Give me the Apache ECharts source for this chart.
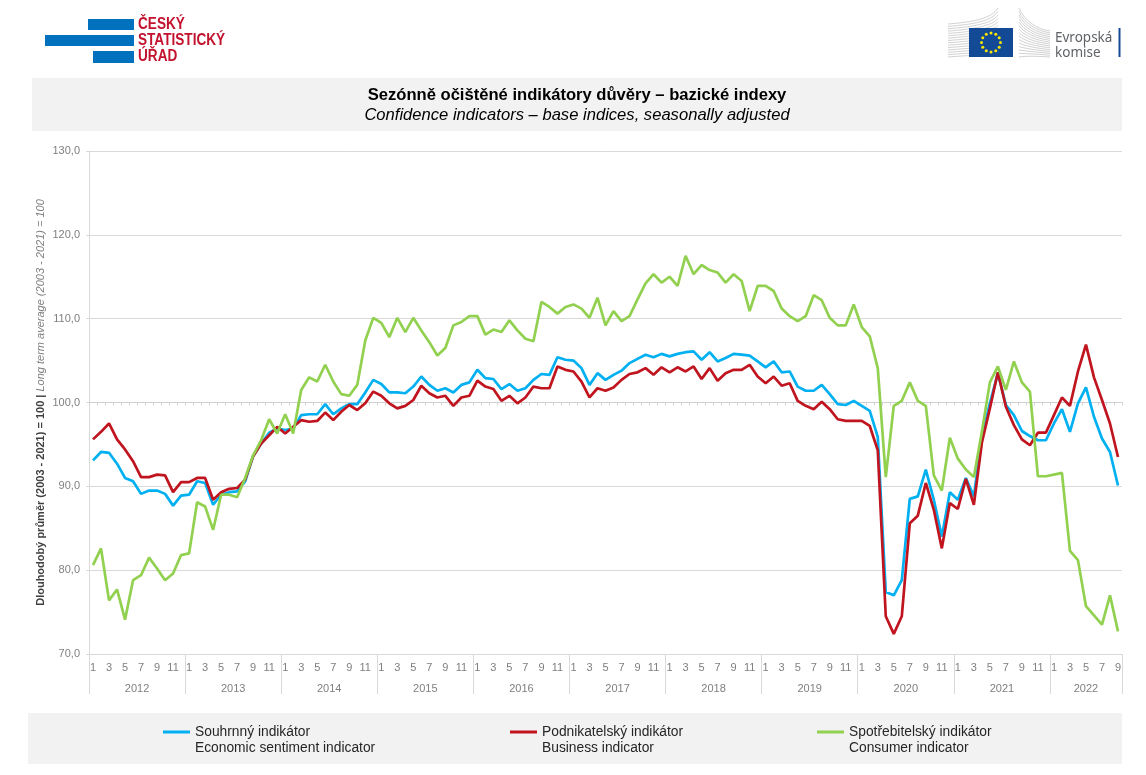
<!DOCTYPE html>
<html>
<head>
<meta charset="utf-8">
<title>Indikátory důvěry</title>
<script src="https://cdn.jsdelivr.net/npm/echarts@6/dist/echarts.min.js"></script>
<style>
    html, body { margin: 0; padding: 0; background: #fff; }
    #chart { width: 1146px; height: 775px; }
</style>
</head>
<body>
<div id="chart"></div>
<script>
//data, monthly from 1/2012 to 9/2022
var years = ['2012', '2013', '2014', '2015', '2016', '2017', '2018', '2019', '2020', '2021', '2022'];
var monthsInYear = [12, 12, 12, 12, 12, 12, 12, 12, 12, 12, 9];

var sentiment = [
    93.1, 94.1, 94.0, 92.7, 91.0, 90.6, 89.1, 89.5, 89.5, 89.1, 87.7, 88.9,
    89.0, 90.6, 90.4, 87.8, 89.0, 89.3, 89.4, 90.6, 93.6, 95.1, 96.4, 96.9,
    96.7, 96.9, 98.5, 98.6, 98.6, 99.8, 98.6, 99.3, 99.8, 99.8, 101.2, 102.7,
    102.2, 101.2, 101.2, 101.1, 101.9, 103.1, 102.1, 101.4, 101.7, 101.2, 102.1, 102.4,
    103.9, 102.9, 102.8, 101.6, 102.2, 101.4, 101.7, 102.7, 103.4, 103.3, 105.4, 105.1,
    105.0, 104.1, 102.1, 103.5, 102.7, 103.3, 103.8, 104.7, 105.2, 105.7, 105.4, 105.8,
    105.5, 105.8, 106.0, 106.1, 105.1, 106.0, 104.9, 105.3, 105.8, 105.7, 105.6, 104.9,
    104.2, 104.9, 103.6, 103.7, 101.9, 101.4, 101.4, 102.1, 101.0, 99.8, 99.7, 100.2,
    99.6, 99.0, 95.9, 77.4, 77.0, 78.8, 88.5, 88.8, 92.0, 88.4, 84.0, 89.3,
    88.4, 91.0, 88.8, 95.9, 99.9, 103.5, 99.7, 98.5, 96.6, 96.0, 95.5, 95.5,
    97.5, 99.2, 96.5, 99.9, 101.8, 98.3, 95.7, 94.1, 90.1
];
var business = [
    95.6, 96.5, 97.5, 95.6, 94.4, 93.0, 91.1, 91.1, 91.4, 91.3, 89.3, 90.5,
    90.5, 91.0, 91.0, 88.4, 89.3, 89.7, 89.8, 90.8, 93.6, 95.1, 96.1, 97.1,
    96.3, 97.1, 97.9, 97.7, 97.8, 98.8, 97.9, 98.9, 99.7, 99.1, 99.9, 101.3,
    100.8, 99.9, 99.3, 99.6, 100.3, 102.0, 101.1, 100.6, 100.8, 99.6, 100.6, 100.8,
    102.6, 101.9, 101.6, 100.2, 100.8, 99.9, 100.6, 101.9, 101.7, 101.7, 104.3, 103.9,
    103.7, 102.5, 100.6, 101.7, 101.4, 101.8, 102.7, 103.4, 103.6, 104.1, 103.3, 104.2,
    103.6, 104.2, 103.7, 104.3, 102.8, 104.1, 102.6, 103.5, 103.9, 103.9, 104.5, 103.1,
    102.3, 103.1, 102.0, 102.3, 100.2, 99.6, 99.2, 100.1, 99.2, 98.0, 97.8, 97.8,
    97.8, 97.2, 94.3, 74.5, 72.4, 74.5, 85.6, 86.5, 90.4, 87.2, 82.6, 88.0,
    87.3, 90.9, 87.8, 95.2, 99.3, 103.6, 99.5, 97.3, 95.6, 94.9, 96.4, 96.4,
    98.5, 100.6, 99.6, 103.7, 106.9, 103.0, 100.3, 97.5, 93.5
];
var consumer = [
    80.6, 82.6, 76.4, 77.7, 74.1, 78.8, 79.4, 81.5, 80.2, 78.8, 79.6, 81.8,
    82.0, 88.1, 87.6, 84.8, 89.0, 89.0, 88.7, 91.0, 93.7, 95.5, 98.0, 96.3,
    98.6, 96.3, 101.5, 103.0, 102.5, 104.5, 102.5, 101.0, 100.8, 102.1, 107.4, 110.1,
    109.5, 107.8, 110.1, 108.4, 110.1, 108.6, 107.2, 105.6, 106.5, 109.2, 109.6, 110.3,
    110.3, 108.1, 108.7, 108.4, 109.8, 108.6, 107.6, 107.3, 112.0, 111.4, 110.6, 111.4,
    111.7, 111.2, 110.1, 112.5, 109.2, 110.9, 109.7, 110.3, 112.3, 114.2, 115.3, 114.3,
    115.0, 113.9, 117.5, 115.3, 116.4, 115.8, 115.5, 114.3, 115.3, 114.5, 110.9, 113.9,
    113.9, 113.3, 111.2, 110.3, 109.7, 110.3, 112.8, 112.2, 110.1, 109.2, 109.2, 111.7,
    109.0, 107.9, 104.1, 91.1, 99.6, 100.2, 102.4, 100.2, 99.6, 91.3, 89.5, 95.8,
    93.3, 92.0, 91.1, 96.5, 102.4, 104.3, 101.5, 104.9, 102.4, 101.3, 91.2, 91.2,
    91.4, 91.6, 82.3, 81.2, 75.7, 74.6, 73.5, 77.0, 72.7
];

var seriesNames = ['Souhrnný indikátor', 'Podnikatelský indikátor', 'Spotřebitelský indikátor'];
var seriesNamesEn = ['Economic sentiment indicator', 'Business indicator', 'Consumer indicator'];
var seriesColors = ['#00b0f0', '#c0141f', '#92d050'];

var titleCz = 'Sezónně očištěné indikátory důvěry – bazické indexy';
var titleEn = 'Confidence indicators – base indices, seasonally adjusted';
var axisNameCz = 'Dlouhodobý průměr (2003 - 2021) = 100';
var axisNameEn = 'Long term average (2003 - 2021) = 100';

var fontName = '"Liberation Sans", Arial, sans-serif';
var gridColor = '#d9d9d9';
var labelColor = '#7f7f7f';
var gridHeight = 503;

//month labels and year spans, built from the year list
var monthLabels = [];
var yearTicks = [0];
var yearCenters = [];
years.forEach(function (year, y) {
    for (var m = 1; m <= monthsInYear[y]; m++) {
        monthLabels.push(String(m));
    }
    yearCenters.push(yearTicks[y] + monthsInYear[y] / 2);
    yearTicks.push(yearTicks[y] + monthsInYear[y]);
});

//logos and grey bands
var graphics = [
    {type: 'rect', shape: {x: 32, y: 78, width: 1090, height: 53}, style: {fill: '#f2f2f2'}},
    {type: 'rect', shape: {x: 28, y: 713, width: 1094, height: 51}, style: {fill: '#f2f2f2'}},

    {type: 'rect', shape: {x: 88, y: 19, width: 46, height: 11}, style: {fill: '#0071bc'}},
    {type: 'rect', shape: {x: 45, y: 35, width: 89, height: 11}, style: {fill: '#0071bc'}},
    {type: 'rect', shape: {x: 93, y: 51, width: 41, height: 12}, style: {fill: '#0071bc'}}
];

['ČESKÝ', 'STATISTICKÝ', 'ÚŘAD'].forEach(function (line, i) {
    graphics.push({
        type: 'text', x: 138, y: 25 + i * 16, scaleX: 0.85,
        style: {text: line, fill: '#c3122d', font: 'bold 16px ' + fontName, textVerticalAlign: 'middle'}
    });
});

for (var k = 0; k <= 14; k++) {
    var t = k / 14;
    graphics.push({
        type: 'bezierCurve',
        shape: {x1: 948, y1: 24 + t * 33, cpx1: 975, cpy1: 22 + t * 33, cpx2: 992, cpy2: 18 + t * 36, x2: 998, y2: 8 + t * 49},
        style: {stroke: '#d2d2d2', lineWidth: 1, fill: null}
    });
    graphics.push({
        type: 'bezierCurve',
        shape: {x1: 1019, y1: 8 + t * 49, cpx1: 1024, cpy1: 20 + t * 36, cpx2: 1036, cpy2: 29 + t * 27, x2: 1050, y2: 31 + t * 26},
        style: {stroke: '#d2d2d2', lineWidth: 1, fill: null}
    });
}

graphics.push({type: 'rect', shape: {x: 969, y: 28, width: 44, height: 29}, style: {fill: '#134a96'}});
for (var s = 0; s < 12; s++) {
    graphics.push({
        type: 'circle',
        shape: {cx: 991 + 9.5 * Math.sin(s * Math.PI / 6), cy: 42.5 - 9.5 * Math.cos(s * Math.PI / 6), r: 1.5},
        style: {fill: '#ffe600'}
    });
}
graphics.push({type: 'rect', shape: {x: 1118.5, y: 28, width: 2, height: 29}, style: {fill: '#134a96'}});
graphics.push({type: 'text', x: 1055, y: 38.5, style: {text: 'Evropská', fill: '#5f6368', font: '13.5px "Noto Sans", sans-serif', textVerticalAlign: 'middle'}});
graphics.push({type: 'text', x: 1055, y: 53, style: {text: 'komise', fill: '#5f6368', font: '13.5px "Noto Sans", sans-serif', textVerticalAlign: 'middle'}});

//one legend per series, the legend boxes stand apart in the band
var legendLefts = [163, 510, 817];
var legends = seriesNames.map(function (name, i) {
    return {
        data: [name],
        left: legendLefts[i],
        top: 708,
        padding: 0,
        orient: 'horizontal',
        icon: 'rect',
        itemWidth: 27,
        itemHeight: 3,
        itemGap: 0,
        selectedMode: false,
        formatter: function (n) {
            return '\u00a0\n' + n + '\n' + seriesNamesEn[seriesNames.indexOf(n)];
        },
        textStyle: {color: '#262626', fontFamily: fontName, fontSize: 13.8, lineHeight: 16}
    };
});

var chart = echarts.init(document.getElementById('chart'));
var options = {
    backgroundColor: '#fff',
    animation: false,
    textStyle: {fontFamily: fontName},
    graphic: {elements: graphics},
    title: {
        text: '{a|' + titleCz + '}\n{b|' + titleEn + '}',
        left: 577,
        top: 85,
        padding: 0,
        textAlign: 'center',
        textStyle: {
            fontWeight: 'normal',
            rich: {
                a: {fontFamily: fontName, fontSize: 16.6, fontWeight: 'bold', color: '#000', lineHeight: 20},
                b: {fontFamily: fontName, fontSize: 16.6, fontWeight: 'normal', fontStyle: 'italic', color: '#000', lineHeight: 20}
            }
        }
    },
    legend: legends,
    grid: {left: 89, right: 24, top: 151, height: gridHeight},
    xAxis: [
        {
            type: 'category',
            data: monthLabels,
            boundaryGap: true,
            axisLine: {lineStyle: {color: gridColor}},
            axisTick: {interval: 0, length: 21, lineStyle: {color: gridColor}},
            axisLabel: {interval: 1, margin: 8, color: labelColor, fontSize: 11, fontFamily: fontName}
        },
        {
            //year row under the months
            type: 'value',
            min: 0,
            max: monthLabels.length,
            position: 'bottom',
            splitLine: {show: false},
            axisLine: {show: false},
            axisTick: {customValues: yearTicks, length: 40, lineStyle: {color: gridColor}},
            axisLabel: {
                customValues: yearCenters,
                margin: 29,
                color: labelColor,
                fontSize: 11,
                fontFamily: fontName,
                formatter: function (value) {
                    return years[yearCenters.indexOf(value)];
                }
            }
        },
        {
            //small ticks on the 100 line
            type: 'category',
            data: monthLabels,
            position: 'bottom',
            offset: -gridHeight / 2,
            axisLine: {lineStyle: {color: '#cfcfcf'}},
            axisTick: {show: true, interval: 0, length: 3, lineStyle: {color: '#d4d4d4'}},
            axisLabel: {show: false}
        }
    ],
    yAxis: {
        type: 'value',
        min: 70,
        max: 130,
        interval: 10,
        name: '{a|' + axisNameCz + ' | }{b|' + axisNameEn + '}',
        nameLocation: 'middle',
        nameRotate: 90,
        nameGap: 43,
        nameMoveOverlap: false,
        nameTextStyle: {
            rich: {
                a: {fontFamily: fontName, fontSize: 11, fontWeight: 'bold', color: '#404040'},
                b: {fontFamily: fontName, fontSize: 11, fontStyle: 'italic', color: '#7f7f7f'}
            }
        },
        axisLine: {show: true, lineStyle: {color: gridColor}},
        axisTick: {show: true, length: 3, lineStyle: {color: gridColor}},
        axisLabel: {
            margin: 9,
            color: labelColor,
            fontSize: 11,
            fontFamily: fontName,
            formatter: function (value) {
                return value.toFixed(1).replace('.', ',');
            }
        },
        splitLine: {lineStyle: {color: gridColor}}
    },
    series: [sentiment, business, consumer].map(function (values, i) {
        return {
            name: seriesNames[i],
            type: 'line',
            data: values,
            showSymbol: false,
            symbol: 'none',
            lineStyle: {width: 2.7, color: seriesColors[i]},
            itemStyle: {color: seriesColors[i]}
        };
    })
};
chart.setOption(options);
</script>
</body>
</html>
